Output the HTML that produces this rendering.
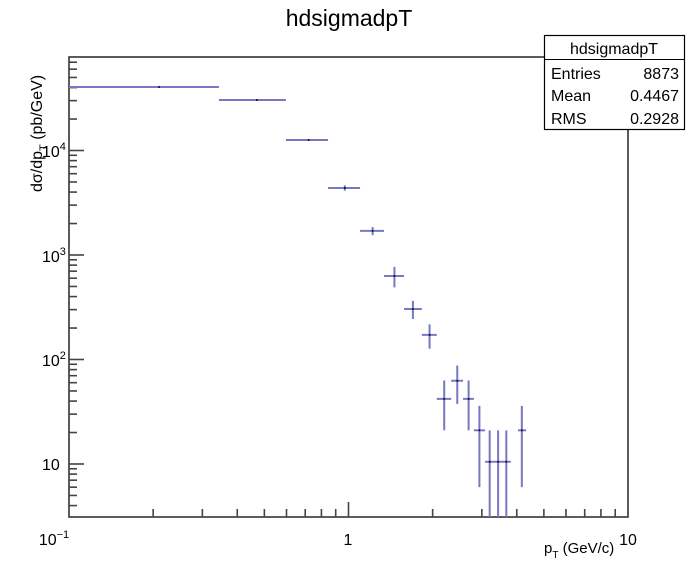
<!DOCTYPE html>
<html><head><meta charset="utf-8"><style>
html,body{margin:0;padding:0;background:#fff;}
svg{display:block;font-family:"Liberation Sans",sans-serif;}
</style></head><body>
<svg id="c" width="698" height="575" xmlns="http://www.w3.org/2000/svg">
<rect x="0" y="0" width="698" height="575" fill="#fff"/>
<text x="349" y="26" font-size="23" text-anchor="middle">hdsigmadpT</text>
<g id="frame"></g>
<g id="ticks"></g>
<g id="marks"></g>
<text x="54" y="545" font-size="16" text-anchor="middle">10<tspan dy="-7" font-size="11">−1</tspan></text>
<text x="348" y="545" font-size="16" text-anchor="middle">1</text>
<text x="628" y="545" font-size="16" text-anchor="middle">10</text>
<text x="544" y="553" font-size="15">p<tspan dy="5" font-size="10">T</tspan><tspan dy="-5"> (GeV/c)</tspan></text>
<text x="42" y="157" font-size="16">10<tspan dy="-7" font-size="11">4</tspan></text>
<text x="42" y="262" font-size="16">10<tspan dy="-7" font-size="11">3</tspan></text>
<text x="42" y="366" font-size="16">10<tspan dy="-7" font-size="11">2</tspan></text>
<text x="42" y="470" font-size="16">10</text>
<text transform="translate(42,192) rotate(-90)" font-size="16">dσ/dp<tspan dy="5" font-size="11">T</tspan><tspan dy="-5"> (pb/GeV)</tspan></text>
<g>
<rect x="544.5" y="35.5" width="140" height="94" fill="#fff" stroke="#000" stroke-width="1.2"/>
<line x1="544.5" y1="59.5" x2="684.5" y2="59.5" stroke="#000"/>
<text x="614" y="54" font-size="16" text-anchor="middle">hdsigmadpT</text>
<text x="551" y="79" font-size="16">Entries</text><text x="679" y="79" font-size="16" text-anchor="end">8873</text>
<text x="551" y="101" font-size="16">Mean</text><text x="679" y="101" font-size="16" text-anchor="end">0.4467</text>
<text x="551" y="124" font-size="16">RMS</text><text x="679" y="124" font-size="16" text-anchor="end">0.2928</text>
</g>
</svg>
<script>
var binLow  = [0.1, 0.344, 0.597, 0.845, 1.10, 1.34, 1.58, 1.83, 2.07, 2.33, 2.57, 2.81, 3.08, 3.32, 3.54, 4.04];
var binHigh = [0.344, 0.597, 0.845, 1.10, 1.34, 1.58, 1.83, 2.07, 2.33, 2.57, 2.81, 3.08, 3.32, 3.54, 3.81, 4.32];
var binCenter = [0.21, 0.47, 0.72, 0.97, 1.22, 1.46, 1.70, 1.95, 2.20, 2.45, 2.69, 2.94, 3.20, 3.43, 3.67, 4.17];
var yVals = [40500, 30400, 12600, 4380, 1700, 630, 304, 172, 42, 62.6, 42, 21, 10.5, 10.5, 10.5, 21];
var yErrs = [300, 250, 200, 250, 150, 140, 60, 45, 21, 25, 21, 15, 10.5, 10.5, 10.5, 15];

var L=69, R=628, T=57, B=517;
var X0=-1, X1=1, Y0=Math.log10(3.11), Y1=4+(150.5-57)/104.5;
function xs(v){return L+(Math.log10(v)-X0)/(X1-X0)*(R-L);}
function ys(v){if(v<=0)return B+10;return B-(Math.log10(v)-Y0)/(Y1-Y0)*(B-T);}
var NS="http://www.w3.org/2000/svg";
function mk(tag,p,parent){var e=document.createElementNS(NS,tag);for(var k in p)e.setAttribute(k,p[k]);parent.appendChild(e);return e;}
var frame=document.getElementById('frame'),ticks=document.getElementById('ticks'),marks=document.getElementById('marks');
var fr=mk('rect',{x:L,y:T,width:R-L,height:B-T,fill:'none',stroke:'#333','stroke-width':1.6},frame);


for(var d=-1;d<1;d++){for(var m=1;m<=9;m++){var v=m*Math.pow(10,d);var x=xs(v);var len=(m===1)?15:8;if(m===1&&d===-1)continue;
var t=mk('line',{x1:x,y1:B,x2:x,y2:B-len,stroke:'#444','stroke-width':1.6},ticks);

}}
for(var d=0;d<5;d++){for(var m=1;m<=9;m++){var v=m*Math.pow(10,d);var y=ys(v);if(y<T||y>B)continue;var len=(m===1)?15:8;
var t=mk('line',{x1:L,y1:y,x2:L+len,y2:y,stroke:'#444','stroke-width':1.6},ticks);

}}
for(var i=0;i<yVals.length;i++){
var g=mk('g',{},marks);


var y=ys(yVals[i]);
mk('line',{x1:xs(binLow[i]),y1:y,x2:xs(binHigh[i]),y2:y,stroke:'#7777c4','stroke-width':2},g);
var yt=Math.max(T,ys(yVals[i]+yErrs[i])),yb=Math.min(B,ys(yVals[i]-yErrs[i]));
mk('line',{x1:xs(binCenter[i]),y1:yt,x2:xs(binCenter[i]),y2:yb,stroke:'#7777c4','stroke-width':2},g);
mk('rect',{x:xs(binCenter[i])-0.8,y:y-0.8,width:1.6,height:1.6,fill:'#000'},g);
}
</script>
</body></html>
